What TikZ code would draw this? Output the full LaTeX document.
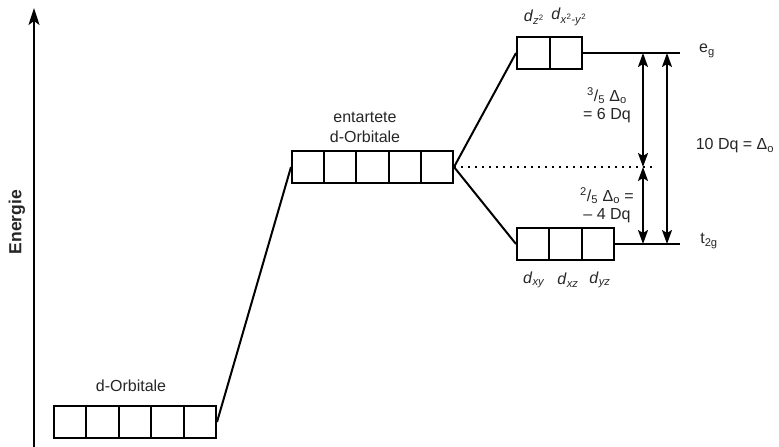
\documentclass[tikz,border=0pt]{standalone}
\usepackage{fontspec}
\setmainfont{Liberation Sans}
\usetikzlibrary{arrows.meta}
\tikzset{
  orb/.style={draw, line width=2pt, minimum height=32pt, inner sep=0pt},
  conn/.style={line width=2pt},
  dotline/.style={line width=2pt, dash pattern=on 2pt off 5pt},
  dblarrow/.style={line width=2pt, {Stealth[length=14pt,width=10pt,inset=3pt]}-{Stealth[length=14pt,width=10pt,inset=3pt]}},
  lbl/.style={font=\fontsize{16}{19}\selectfont, inner sep=0pt, text=black!85},
}
\begin{document}
\begin{tikzpicture}[x=1pt,y=-1pt]
\useasboundingbox (0,0) rectangle (779,447);
% energy axis
\coordinate (ax0) at (34,447);
\coordinate (ax1) at (34,8);
\draw[line width=2pt, -{Stealth[length=17pt,width=11pt,inset=4pt]}] (ax0) -- (ax1);
\node[lbl, rotate=90, font=\fontsize{17.5}{20}\selectfont\bfseries] (energie) at (17,222) {Energie};
% bottom d-orbitals
\foreach \i in {1,...,5} \node[orb, minimum width=32.4pt] (b\i) at ({70.2+32.4*(\i-1)},422) {};
\node[lbl] (lb) at (131,386) {d-Orbitale};
% degenerate
\foreach \i in {1,...,5} \node[orb, minimum width=32.2pt] (m\i) at ({308.1+32.2*(\i-1)},167) {};
\node[lbl, align=center, font=\fontsize{16}{20}\selectfont] (lm) at (365,127) {entartete\\d-Orbitale};
% eg
\node[orb, minimum width=32.5pt] (u1) at (533.25,53) {};
\node[orb, minimum width=32.5pt] (u2) at (565.75,53) {};
% t2g
\node[orb, minimum width=32.3pt] (l1) at (533.15,244) {};
\node[orb, minimum width=32.3pt] (l2) at (565.45,244) {};
\node[orb, minimum width=32.3pt] (l3) at (597.75,244) {};
% labels of orbitals
\node[lbl] (dz) at (534,17) {\textit{d}\textsubscript{\textit{z}\textsuperscript{2}}};
\node[lbl] (dx) at (569,17) {\textit{d}\textsubscript{\textit{x}\textsuperscript{2}\textit{-y}\textsuperscript{2}}};
\node[lbl] (dxy) at (534,280) {\textit{d}\textsubscript{\textit{xy}}};
\node[lbl] (dxz) at (568,280) {\textit{d}\textsubscript{\textit{xz}}};
\node[lbl] (dyz) at (600,280) {\textit{d}\textsubscript{\textit{yz}}};
% connectors
\draw[conn] (b5.east) -- (m1.west);
\draw[conn] (m5.east) -- (u1.west);
\draw[conn] (m5.east) -- (l1.west);
\coordinate (egR) at (680,53);
\coordinate (tR) at (680,244);
\coordinate (dotR) at (652,167);
\draw[conn] (u2.east) -- (egR);
\draw[conn] (l3.east) -- (tR);
\draw[dotline] (m5.east) -- (dotR);
% arrows
\coordinate (mid) at (643,167);
\coordinate (eA) at (643,53);
\coordinate (tA) at (643,244);
\coordinate (eB) at (667,53);
\coordinate (tB) at (667,244);
\draw[dblarrow] (mid) -- (eA);
\draw[dblarrow] (mid) -- (tA);
\draw[dblarrow] (eB) -- (tB);
% level labels
\node[lbl] (eg) at (707,51) {e\textsubscript{g}};
\node[lbl] (t2g) at (709,241) {t\textsubscript{2g}};
\node[lbl, align=center, font=\fontsize{16}{18}\selectfont] (up) at (607,105) {\textsuperscript{3}/\textsubscript{5} Δ\textsubscript{o}\\= 6 Dq};
\node[lbl, align=center, font=\fontsize{16}{18}\selectfont] (dn) at (607,205) {\textsuperscript{2}/\textsubscript{5} Δ\textsubscript{o} =\\– 4 Dq};
\node[lbl] (tot) at (735,146) {10 Dq = Δ\textsubscript{o}};
\end{tikzpicture}
\end{document}
